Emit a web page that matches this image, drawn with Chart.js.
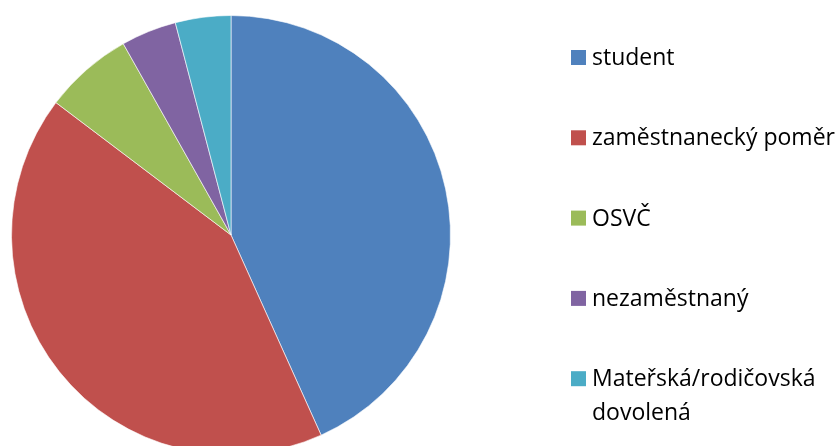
<!DOCTYPE html>
<html>
<head>
<meta charset="utf-8">
<script src="https://cdn.jsdelivr.net/npm/chart.js@4/dist/chart.umd.min.js"></script>
<style>
    html, body { margin: 0; padding: 0; background: #fff; overflow: hidden; }
    #wrap { position: relative; width: 839px; height: 470px; }
</style>
</head>
<body>
<div id="wrap"><canvas id="pieChart"></canvas></div>
<script>
const labels = ['student', 'zaměstnanecký poměr', 'OSVČ', 'nezaměstnaný', 'Mateřská/rodičovská dovolená'];
const counts = [106, 103, 16, 10, 10];
const colors = ['#4F81BD', '#C0504D', '#9BBB59', '#8064A2', '#4BACC6'];

// legend text split into lines, as in the original
const legendLines = [['student'], ['zaměstnanecký poměr'], ['OSVČ'], ['nezaměstnaný'], ['Mateřská/rodičovská', 'dovolená']];

const legendPlugin = {
    id: 'sideLegend',
    afterDraw(chart) {
        const ctx = chart.ctx;
        ctx.save();
        ctx.font = '23px "Open Sans", sans-serif';
        ctx.textBaseline = 'alphabetic';
        ctx.fillStyle = '#000';
        const firstBaseline = 65;
        const step = 80.3;
        legendLines.forEach(function(lines, i) {
            const base = firstBaseline + i * step;
            ctx.fillStyle = colors[i];
            ctx.fillRect(571, base - 15, 15, 15);
            ctx.fillStyle = '#000';
            lines.forEach(function(line, j) {
                ctx.fillText(line, 592, base + j * 33.5);
            });
        });
        ctx.restore();
    }
};

const ctx = document.getElementById('pieChart').getContext('2d');
new Chart(ctx, {
    type: 'pie',
    data: {
        labels: labels,
        datasets: [{
            data: counts,
            backgroundColor: colors,
            borderColor: 'rgba(255,255,255,0.6)',
            borderWidth: 1
        }]
    },
    options: {
        responsive: true,
        maintainAspectRatio: false,
        animation: false,
        layout: {
            padding: { left: 11, right: 388, top: 15, bottom: 15 }
        },
        plugins: {
            legend: { display: false },
            tooltip: { enabled: false }
        }
    },
    plugins: [legendPlugin]
});
</script>
</body>
</html>
